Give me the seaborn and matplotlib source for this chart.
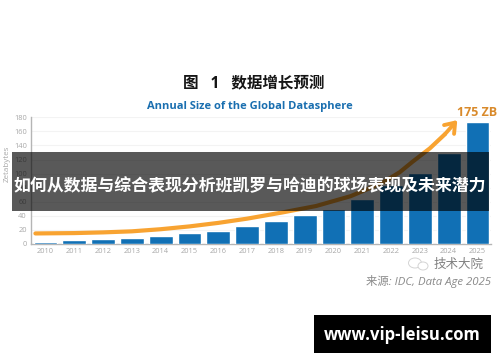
import numpy as np
import pandas as pd
import matplotlib
matplotlib.use('Agg')
import matplotlib.pyplot as plt
from matplotlib.patches import Rectangle, Ellipse
import seaborn as sns

years = ['2010', '2011', '2012', '2013', '2014', '2015', '2016', '2017',
         '2018', '2019', '2020', '2021', '2022', '2023', '2024', '2025']
sizes = [3, 5.5, 6.5, 8.5, 12, 16, 18, 26, 33, 41, 50, 64, 84, 101, 129, 173]

# orange trend curve, x is position on the year axis (0 = 2010)
curve_x = [-0.35, 1, 2, 3, 4, 5, 6, 7, 8.25, 9.4, 10.6, 11.7, 12.3, 12.75, 13.35, 13.87]
curve_y = [15, 15.5, 16.5, 18, 21, 25, 30, 36, 45, 54, 68, 87, 102, 117, 136, 156]
arrow_tip = (14.3, 176)

sns.set_theme(style='white')
plt.rcParams['font.family'] = ['Open Sans', 'Noto Sans CJK SC', 'DejaVu Sans']

W, H = 500, 362
fig = plt.figure(figsize=(W / 100, H / 100), dpi=100, facecolor='white')
ax = fig.add_axes([31 / W, 1 - 244 / H, (491 - 31) / W, (244 - 117.3) / H])

df = pd.DataFrame({'year': years, 'size': sizes})
sns.barplot(data=df, x='year', y='size', color='#1170b5', saturation=1, width=0.83, ax=ax, zorder=3)

sns.lineplot(x=curve_x, y=curve_y, color='#f8a331', linewidth=3, ax=ax, zorder=4)
ax.annotate('', xy=arrow_tip, xytext=(curve_x[-1], curve_y[-1]), zorder=4, annotation_clip=False,
            arrowprops=dict(arrowstyle='->,head_length=0.55,head_width=0.4', color='#f8a331', lw=2.8,
                            shrinkA=0, shrinkB=0))

ax.set_xlim(-0.503, 15.47)
ax.set_ylim(0, 180)
ax.set_yticks(range(0, 181, 20))
ax.grid(axis='y', color='#f3f3f3', lw=0.8)
ax.set_axisbelow(True)
ax.tick_params(axis='both', labelsize=5.4, labelcolor='#a8a8a8', length=0, pad=3)
ax.set_xlabel('')
ax.set_ylabel('Zetabytes', fontsize=5.8, color='#a8a8a8')
ax.yaxis.set_label_coords(-0.045, 0.63)
for s in ['top', 'right']:
    ax.spines[s].set_visible(False)
for s in ['left', 'bottom']:
    ax.spines[s].set_color('#b5b5b5')
    ax.spines[s].set_linewidth(1)

def put(x, y, txt, **kw):
    kw.setdefault('ha', 'center')
    kw.setdefault('va', 'center')
    kw.setdefault('zorder', 10)
    return fig.text(x / W, 1 - y / H, txt, **kw)

put(254, 83, '图   1   数据增长预测', fontsize=11.2, fontweight='bold', color='#151515')
put(250, 107, 'Annual Size of the Global Datasphere', fontsize=8, fontweight='bold', color='#1a6fb0')
put(477, 113, '175 ZB', fontsize=9, fontweight='bold', color='#d98a2b')

# dark band with the headline across the chart
fig.add_artist(Rectangle((12 / W, 1 - 211 / H), 477 / W, 59 / H, transform=fig.transFigure,
                         facecolor='black', alpha=0.65, edgecolor='none', zorder=5))
put(250, 186, '如何从数据与综合表现分析班凯罗与哈迪的球场表现及未来潜力', fontsize=12.2,
    fontweight='bold', color='white')

# watermark and source
for cx, cy, w, h in [(415, 263, 13, 10), (423, 266, 10, 8)]:
    fig.add_artist(Ellipse((cx / W, 1 - cy / H), w / W, h / H, transform=fig.transFigure,
                           facecolor='white', edgecolor='#d4d4d4', lw=0.7, zorder=6))
put(459, 264, '技术大院', fontsize=9, color='#808080')
put(429, 281, '来源: IDC, Data Age 2025', fontsize=8.2, style='italic', color='#8a8a8a')

# footer box
fig.add_artist(Rectangle((314 / W, 1 - 353 / H), 177 / W, 38 / H, transform=fig.transFigure,
                         facecolor='black', edgecolor='none', zorder=5))
put(402, 335, 'www.vip-leisu.com', fontsize=12, fontweight='bold', color='white')

fig.savefig('out.png', dpi=100, facecolor='white')
